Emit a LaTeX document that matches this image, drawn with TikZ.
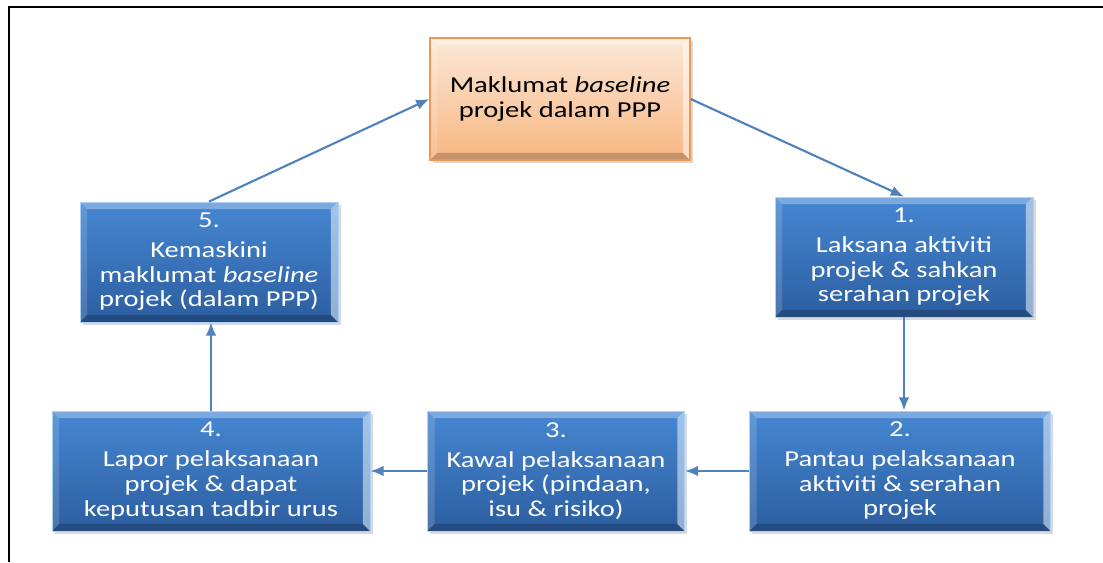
\documentclass[tikz,border=0pt]{standalone}
\usepackage{fontspec}
\setmainfont{Carlito}[FakeStretch=1.25]
\usetikzlibrary{arrows.meta,shadows}
\definecolor{boxtop}{RGB}{70,135,210}
\definecolor{boxbot}{RGB}{44,94,160}
\definecolor{boxrim}{RGB}{170,210,250}
\definecolor{peachtop}{RGB}{252,232,215}
\definecolor{peachbot}{RGB}{247,182,130}
\definecolor{peachrim}{RGB}{240,150,80}
\definecolor{flow}{RGB}{79,129,189}

\begin{document}
\begin{tikzpicture}[x=0.02cm,y=0.02cm]
        \tikzstyle{bevel}=[path picture={
          \fill[white,opacity=0.3] (path picture bounding box.north west) -- (path picture bounding box.north east) -- ++(-4pt,-4pt) -- ([shift={(4pt,-4pt)}]path picture bounding box.north west) -- cycle;
          \fill[white,opacity=0.5] (path picture bounding box.north east) -- (path picture bounding box.south east) -- ++(-4pt,4pt) -- ([shift={(-4pt,-4pt)}]path picture bounding box.north east) -- cycle;
          \fill[white,opacity=0.15] (path picture bounding box.north west) -- (path picture bounding box.south west) -- ++(4pt,4pt) -- ([shift={(4pt,-4pt)}]path picture bounding box.north west) -- cycle;
          \fill[black,opacity=0.2] (path picture bounding box.south west) -- (path picture bounding box.south east) -- ++(-4pt,4pt) -- ([shift={(4pt,4pt)}]path picture bounding box.south west) -- cycle;}]
        \tikzstyle{stage}=[rectangle,bevel,draw=boxrim,line width=0.5pt,top color=boxtop,bottom color=boxbot,text=white,align=center,minimum height=2.4cm,inner sep=2pt,font=\fontsize{13}{14}\selectfont,drop shadow={shadow xshift=1.5pt,shadow yshift=-1.5pt,opacity=0.3}]
        \tikzstyle{source}=[stage,draw=peachrim,line width=0.8pt,top color=peachtop,bottom color=peachbot,text=black,minimum width=5.2cm,minimum height=2.44cm]
        \tikzstyle{edge}=[draw=flow,line width=1.2pt,-{Latex[length=7.5pt,width=6pt]}]
        \useasboundingbox (0,0) rectangle (1103,562);
        % frame
        \draw[line width=1.2pt] (9,0) -- (9,555) -- (1103,555);
       \begin{scope}
         \node [source] (ppp) at (560,463) {Maklumat \textit{baseline}\\projek dalam PPP};
         \node [stage,minimum width=5.16cm] (s1) at (904,305) {1.\\[3pt]Laksana aktiviti\\projek \& sahkan\\serahan projek};
         \node [stage,minimum width=6.02cm] (s2) at (900,91) {2.\\[3pt]Pantau pelaksanaan\\aktiviti \& serahan\\projek};
         \node [stage,minimum width=5.14cm] (s3) at (556,91) {3.\\[3pt]Kawal pelaksanaan\\projek (pindaan,\\isu \& risiko)};
         \node [stage,minimum width=6.36cm] (s4) at (211,91) {4.\\[3pt]Lapor pelaksanaan\\projek \& dapat\\keputusan tadbir urus};
         \node [stage,minimum width=5.16cm] (s5) at (209,300) {5.\\[3pt]Kemaskini\\maklumat \textit{baseline}\\projek (dalam PPP)};
         \path (ppp.east) edge[edge] (s1.north);
         \path (s1.south) edge[edge] (s1.south |- s2.north);
         \path (s2.west) edge[edge] (s3.east);
         \path (s3.west) edge[edge] (s4.east);
         \path (s4.north) edge[edge] (s4.north |- s5.south);
         \path (s5.north) edge[edge] (ppp.west);
        \end{scope}
      \end{tikzpicture}
\end{document}
